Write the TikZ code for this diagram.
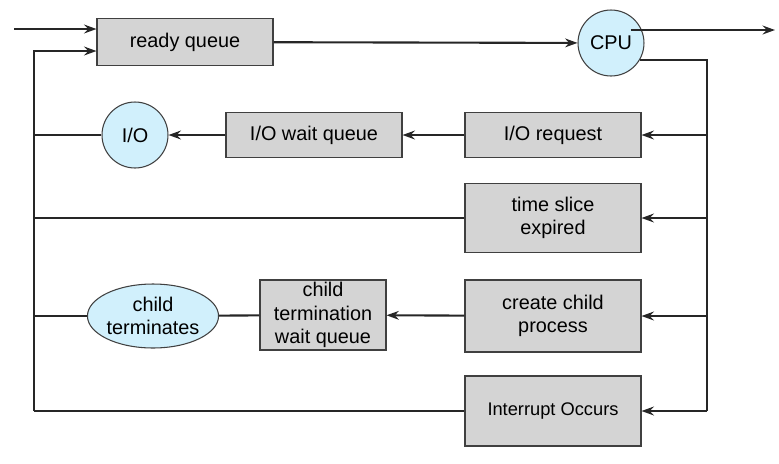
\documentclass[tikz,border=0pt]{standalone}
\usepackage{fontspec}
\setmainfont{Liberation Sans}
\usetikzlibrary{arrows.meta,shapes.geometric}
\begin{document}
\begin{tikzpicture}[x=0.02cm,y=-0.02cm,
  box/.style={draw=black!75,fill=black!17,line width=0.6pt,inner sep=0pt,align=center,font=\fontsize{11.3}{13.3}\selectfont},
  circ/.style={draw=black!75,fill=cyan!18,line width=0.6pt,circle,inner sep=0pt,minimum size=1.32cm,font=\fontsize{11.3}{13.3}\selectfont},
  ln/.style={line width=1.2pt,black!85},
  ar/.style={ln,-{Stealth[length=7pt,width=5pt]}}]
\useasboundingbox (0,0) rectangle (779,464);
\node[box,minimum width=3.52cm,minimum height=0.94cm] (rq) at (185,42) {ready queue};
\node[circ] (cpu) at (611,43) {CPU};
\node[box,minimum width=3.52cm,minimum height=0.9cm] (ior) at (553,135) {I/O request};
\node[box,minimum width=3.52cm,minimum height=0.9cm] (iowq) at (314,135) {I/O wait queue};
\node[circ] (io) at (135,135) {I/O};
\node[box,minimum width=3.52cm,minimum height=1.38cm] (ts) at (553,218) {time slice\\expired};
\node[box,minimum width=3.52cm,minimum height=1.44cm] (cc) at (553,316) {create child\\process};
\node[box,minimum width=2.52cm,minimum height=1.4cm] (ctw) at (323,315) {child\\termination\\wait queue};
\node[draw=black!75,fill=cyan!18,line width=0.6pt,ellipse,inner sep=0pt,minimum width=2.2cm,minimum height=1.28cm,align=center,font=\fontsize{11.3}{13.3}\selectfont] (ct) at (153,316) {child\\terminates};
\node[box,minimum width=3.52cm,minimum height=1.4cm,font=\fontsize{10.4}{12}\selectfont] (int) at (553,411) {Interrupt Occurs};
\coordinate (in) at (14,29);
\coordinate (out) at (775,30);
\coordinate (L) at (34,411);
\coordinate (R) at (707,411);
\draw[ar] (in) -- (in -| rq.west);
\draw[ar] (rq) -- (cpu);
\draw[ar] (cpu.north east |- out) ++(-4,0) -- (out);
\draw[ln] (cpu.-30) -- (cpu.-30 -| R) -- (R);
\draw[ar] (R |- ior) -- (ior);
\draw[ar] (R |- ts) -- (ts);
\draw[ar] (R |- cc) -- (cc);
\draw[ar] (R) -- (int);
\draw[ar] (ior) -- (iowq);
\draw[ar] (iowq) -- (io);
\draw[ar] (cc) -- (ctw);
\draw[ln] (ctw) -- (ct);
\draw[ln] (int) -- (L);
\draw[ar] (L) -- (34,51) -- (rq.west |- 0,51);
\draw[ln] (io) -- (L |- io);
\draw[ln] (ts) -- (L |- ts);
\draw[ln] (ct) -- (L |- ct);
\end{tikzpicture}
\end{document}
